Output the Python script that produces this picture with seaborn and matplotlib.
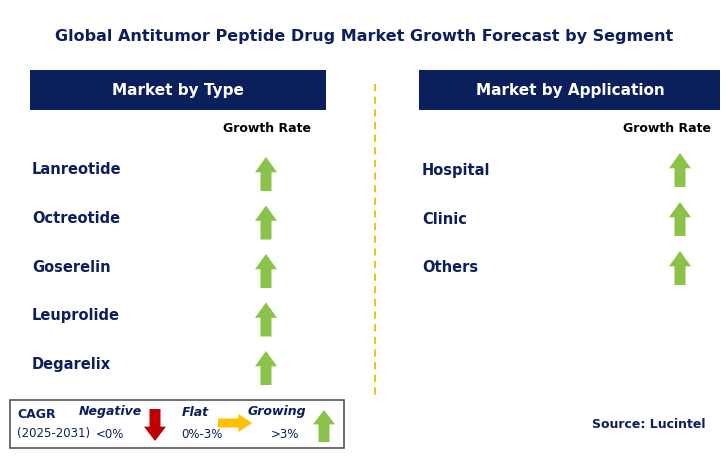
import matplotlib
matplotlib.use("Agg")
import matplotlib.pyplot as plt
from matplotlib.patches import Rectangle, Polygon
import seaborn as sns

sns.set_theme(style="white")

title = "Global Antitumor Peptide Drug Market Growth Forecast by Segment"
type_segments = ["Lanreotide", "Octreotide", "Goserelin", "Leuprolide", "Degarelix"]
type_growth = ["Growing", "Growing", "Growing", "Growing", "Growing"]
app_segments = ["Hospital", "Clinic", "Others"]
app_growth = ["Growing", "Growing", "Growing"]

NAVY = "#0b1f5c"
GREEN = "#8bc34a"
RED = "#c00000"
YELLOW = "#ffc000"

fig = plt.figure(figsize=(7.28, 4.58), dpi=100)
ax = fig.add_axes([0, 0, 1, 1])
ax.set_xlim(0, 728)
ax.set_ylim(458, 0)
ax.axis("off")

def up_arrow(cx, top, h=34, w=22, color=GREEN):
    sw = w * 0.5; hl = h * 0.45
    pts = [(cx, top), (cx + w/2, top + hl), (cx + sw/2, top + hl), (cx + sw/2, top + h),
           (cx - sw/2, top + h), (cx - sw/2, top + hl), (cx - w/2, top + hl)]
    ax.add_patch(Polygon(pts, closed=True, color=color, lw=0))

def down_arrow(cx, top, h=34, w=22, color=RED):
    sw = w * 0.5; hl = h * 0.45
    b = top + h
    pts = [(cx, b), (cx + w/2, b - hl), (cx + sw/2, b - hl), (cx + sw/2, top),
           (cx - sw/2, top), (cx - sw/2, b - hl), (cx - w/2, b - hl)]
    ax.add_patch(Polygon(pts, closed=True, color=color, lw=0))

def right_arrow(left, cy, w=30, h=18, color=YELLOW):
    sh = h * 0.5; hl = w * 0.4
    r = left + w
    pts = [(r, cy), (r - hl, cy - h/2), (r - hl, cy - sh/2), (left, cy - sh/2),
           (left, cy + sh/2), (r - hl, cy + sh/2), (r - hl, cy + h/2)]
    ax.add_patch(Polygon(pts, closed=True, color=color, lw=0))

def draw_arrow(kind, cx, cy):
    if kind == "Growing":
        up_arrow(cx, cy - 17)
    elif kind == "Negative":
        down_arrow(cx, cy - 17)
    else:
        right_arrow(cx - 15, cy)

ax.text(364, 36, title, ha="center", va="center", fontsize=11.5, fontweight="bold", color=NAVY)

# headers
ax.add_patch(Rectangle((30, 70), 296, 40, color=NAVY, lw=0))
ax.text(178, 90, "Market by Type", ha="center", va="center", color="white", fontsize=11, fontweight="bold")
ax.add_patch(Rectangle((419, 70), 301, 40, color=NAVY, lw=0))
ax.text(570, 90, "Market by Application", ha="center", va="center", color="white", fontsize=11, fontweight="bold")

ax.text(267, 129, "Growth Rate", ha="center", va="center", color="black", fontsize=9, fontweight="bold")
ax.text(667, 129, "Growth Rate", ha="center", va="center", color="black", fontsize=9, fontweight="bold")

ax.plot([375, 375], [84, 395], ls=(0, (4, 3)), color="#f5b800", lw=1.3)

for i, (s, g) in enumerate(zip(type_segments, type_growth)):
    y = 170 + i * 48.5
    ax.text(32, y, s, ha="left", va="center", color=NAVY, fontsize=10.5, fontweight="bold")
    draw_arrow(g, 266, y + 4)
for i, (s, g) in enumerate(zip(app_segments, app_growth)):
    y = 170 + i * 49
    ax.text(422, y, s, ha="left", va="center", color=NAVY, fontsize=10.5, fontweight="bold")
    draw_arrow(g, 680, y)

# legend box
ax.add_patch(Rectangle((10, 400), 334, 48, fill=False, ec="#555555", lw=1.2))
ax.text(17, 414, "CAGR", ha="left", va="center", color=NAVY, fontsize=9, fontweight="bold")
ax.text(17, 434, "(2025-2031)", ha="left", va="center", color=NAVY, fontsize=8.5)
ax.text(110, 412, "Negative", ha="center", va="center", color=NAVY, fontsize=9, fontweight="bold", style="italic")
ax.text(110, 435, "<0%", ha="center", va="center", color=NAVY, fontsize=8.5)
down_arrow(155, 409, h=32, w=22)
ax.text(195, 412, "Flat", ha="center", va="center", color=NAVY, fontsize=9, fontweight="bold", style="italic")
ax.text(202, 435, "0%-3%", ha="center", va="center", color=NAVY, fontsize=8.5)
right_arrow(218, 423, w=34, h=18)
ax.text(277, 412, "Growing", ha="center", va="center", color=NAVY, fontsize=9, fontweight="bold", style="italic")
ax.text(285, 434, ">3%", ha="center", va="center", color=NAVY, fontsize=8.5)
up_arrow(324, 410, h=32, w=22)

ax.text(706, 425, "Source: Lucintel", ha="right", va="center", color=NAVY, fontsize=9, fontweight="bold")

fig.savefig("out.png", dpi=100)
